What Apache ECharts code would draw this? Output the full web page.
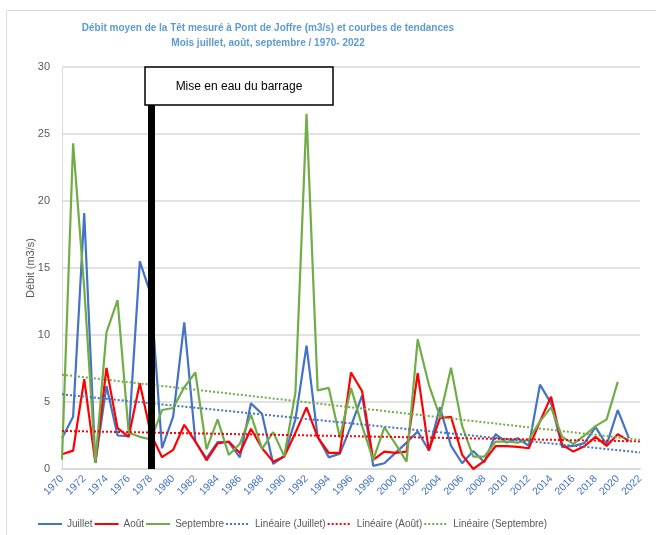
<!DOCTYPE html>
<html>
<head>
<meta charset="utf-8">
<script src="https://cdn.jsdelivr.net/npm/echarts@6/dist/echarts.min.js"></script>
<style>
  html, body { margin: 0; padding: 0; background: #fff; }
  #chart { width: 656px; height: 535px; }
</style>
</head>
<body>
<div id="chart"></div>
<script>
// Débit moyen de la Têt à Pont de Joffre (m3/s), 1970 - 2022
const years = [
  "1970", "1971", "1972", "1973", "1974", "1975", "1976", "1977", "1978", "1979",
  "1980", "1981", "1982", "1983", "1984", "1985", "1986", "1987", "1988", "1989",
  "1990", "1991", "1992", "1993", "1994", "1995", "1996", "1997", "1998", "1999",
  "2000", "2001", "2002", "2003", "2004", "2005", "2006", "2007", "2008", "2009",
  "2010", "2011", "2012", "2013", "2014", "2015", "2016", "2017", "2018", "2019",
  "2020", "2021", "2022"
];

const juillet = [
  2.3, 3.9, 19.1, 0.45, 6.2, 2.5, 2.45, 15.5, 13.0, 1.55,
  3.9, 10.95, 2.05, 0.8, 2.0, 2.0, 0.87, 4.9, 4.1, 0.38,
  0.97, 3.7, 9.2, 2.4, 0.87, 1.15, 3.2, 5.5, 0.23, 0.43,
  1.2, 1.97, 2.8, 1.4, 4.6, 1.72, 0.43, 1.35, 0.5, 2.6,
  1.97, 2.3, 1.72, 6.3, 4.9, 1.63, 1.72, 1.93, 3.13, 1.8,
  4.4, 2.3, null
];

const aout = [
  1.1, 1.37, 6.7, 0.45, 7.55, 3.05, 2.4, 6.4, 2.6, 0.88,
  1.43, 3.3, 2.05, 0.65, 1.9, 2.05, 1.2, 3.0, 1.55, 0.55,
  0.93, 2.7, 4.6, 2.38, 1.2, 1.2, 7.2, 5.8, 0.68, 1.3,
  1.2, 1.3, 7.15, 1.37, 3.8, 3.9, 1.05, 0.0, 0.6, 1.7,
  1.7, 1.65, 1.55, 3.55, 5.4, 1.8, 1.3, 1.7, 2.4, 1.72,
  2.6, 2.1, null
];

const septembre = [
  0.7, 24.3, 13.5, 0.45, 10.2, 12.6, 2.7, 2.4, 2.2, 4.4,
  4.55, 6.1, 7.2, 1.47, 3.7, 1.05, 1.88, 4.05, 1.5, 2.75,
  0.95, 5.7, 26.5, 5.87, 6.05, 2.35, 6.05, 3.2, 0.68, 3.1,
  1.88, 0.55, 9.68, 6.3, 3.9, 7.55, 3.2, 0.93, 0.93, 2.05,
  2.05, 1.97, 2.2, 3.55, 4.6, 2.4, 1.87, 2.5, 3.2, 3.7,
  6.5, null, null
];

const damYear = "1978";
const damLabel = "Mise en eau du barrage";

// least-squares line over the known points, drawn across every category
function linearTrend(values) {
  const pts = values.map((v, i) => [i, v]).filter((p) => p[1] != null);
  const n = pts.length;
  let sx = 0, sy = 0, sxx = 0, sxy = 0;
  pts.forEach(([x, y]) => { sx += x; sy += y; sxx += x * x; sxy += x * y; });
  const b = (n * sxy - sx * sy) / (n * sxx - sx * sx);
  const a = (sy - b * sx) / n;
  return values.map((_, i) => +(a + b * i).toFixed(3));
}

const BLUE = "#4472c4";
const RED = "#ff0000";
const GREEN = "#70ad47";
const GREY = "#595959";
const FONT = "'Liberation Sans', Arial, sans-serif";

function solid(name, data, color) {
  return {
    name, type: "line", data, symbol: "none", connectNulls: false,
    lineStyle: { color, width: 2.2 }, itemStyle: { color },
  };
}

function dotted(name, data, color) {
  return {
    name, type: "line", data: linearTrend(data), symbol: "none",
    lineStyle: { color, width: 2, type: "dotted" }, itemStyle: { color },
  };
}

const chart = echarts.init(document.getElementById("chart"), null, { renderer: "canvas" });

const barrage = solid("barrage", [], "#000");
barrage.markLine = {
  silent: true, symbol: "none", label: { show: false },
  lineStyle: { color: "#000", width: 7, type: "solid" },
  data: [{ xAxis: damYear }],
};

chart.setOption({
  animation: false,
  textStyle: { fontFamily: FONT },
  grid: { left: 62, right: 16, top: 67, bottom: 66 },
  graphic: [
    {
      type: "rect", silent: true, z: -10,
      shape: { x: 6.5, y: 10.5, width: 700, height: 600 },
      style: { fill: "#fff", stroke: "#d9d9d9", lineWidth: 1 },
    },
    {
      type: "text", x: 268, y: 36, z: 10,
      style: {
        text: "Débit moyen de la Têt mesuré à Pont de Joffre (m3/s) et courbes de tendances\nMois juillet, août, septembre / 1970- 2022",
        align: "center", verticalAlign: "middle", lineHeight: 15,
        font: "bold 10px " + FONT, fill: "#5b9bd5",
      },
    },
    {
      type: "rect", x: 145, y: 67, z: 100,
      shape: { width: 188, height: 38 },
      style: { fill: "#fff", stroke: "#000", lineWidth: 1.5 },
    },
    {
      type: "text", x: 239, y: 87, z: 101,
      style: {
        text: damLabel, align: "center", verticalAlign: "middle",
        font: "12px " + FONT, fill: "#000",
      },
    },
  ],
  legend: {
    left: 32, top: 514, itemWidth: 24, itemHeight: 10, itemGap: 1,
    itemStyle: { opacity: 0 },
    textStyle: { fontSize: 10, color: GREY, fontFamily: FONT },
    data: ["Juillet", "Août", "Septembre", "Linéaire (Juillet)", "Linéaire (Août)", "Linéaire (Septembre)"],
  },
  xAxis: {
    type: "category", data: years, boundaryGap: false,
    axisLine: { lineStyle: { color: "#d9d9d9", width: 2 } },
    axisTick: { show: false },
    axisLabel: { interval: 1, rotate: 45, color: BLUE, fontSize: 10.5, margin: 8 },
  },
  yAxis: {
    type: "value", min: 0, max: 30, interval: 5,
    name: "Débit (m3/s)", nameLocation: "middle", nameGap: 26, nameMoveOverlap: false,
    nameTextStyle: { color: GREY, fontSize: 11 },
    axisLine: { show: true, lineStyle: { color: "#d9d9d9", width: 1 } },
    axisLabel: { color: GREY, fontSize: 11, margin: 12 },
    splitLine: { lineStyle: { color: "#d9d9d9", width: 1.5 } },
  },
  series: [
    barrage,
    solid("Juillet", juillet, BLUE),
    solid("Août", aout, RED),
    solid("Septembre", septembre, GREEN),
    dotted("Linéaire (Juillet)", juillet, BLUE),
    dotted("Linéaire (Août)", aout, RED),
    dotted("Linéaire (Septembre)", septembre, GREEN),
  ],
});
</script>
</body>
</html>
